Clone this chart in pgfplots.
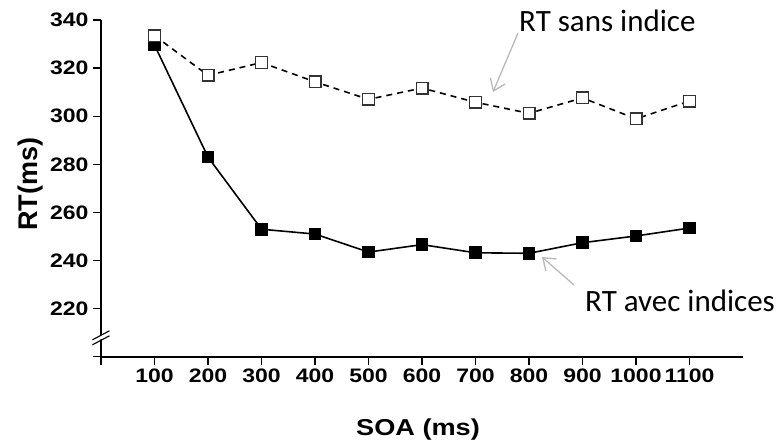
\documentclass[border=0pt]{standalone}
\usepackage{pgfplots}
\pgfplotsset{compat=1.18}
\usepackage{fontspec}
\setmainfont{Liberation Sans}
\newfontfamily\widefont[FakeStretch=1.18]{Liberation Sans}
\newfontfamily\calibri{Carlito}
\usetikzlibrary{arrows.meta,calc}
\definecolor{arrowgray}{RGB}{185,185,185}
\begin{document}
\begin{tikzpicture}[x=1pt,y=1pt]
\useasboundingbox (0,0) rectangle (782,440);
\begin{axis}[
  at={(101pt,83.3pt)}, anchor=south west,
  scale only axis, width=642pt, height=336.7pt,
  xmin=0, xmax=1200, ymin=200, ymax=340,
  axis lines=left,
  axis line style={-, line width=1.6pt},
  xtick={0,100,...,1100},
  xticklabels={,100,200,300,400,500,600,700,800,900,1000,1100},
  ytick={200,220,...,340},
  yticklabels={,220,240,260,280,300,320,340},
  tick align=outside,
  major tick length=8pt,
  tick style={line width=1.4pt, black},
  /pgf/number format/assume math mode=true,
  ticklabel style={font=\widefont\bfseries\fontsize{19.5}{19.5}\selectfont},
  yticklabel style={xshift=-1pt},
  xticklabel style={yshift=-1pt},
  clip=false,
]
\addplot[black, line width=1.6pt, mark=square*, mark size=5.8pt,
  mark options={solid, fill=black, line width=1.2pt}]
  coordinates {(100,329.6) (200,283) (300,253) (400,251) (500,243.5) (600,246.6)
               (700,243.2) (800,243) (900,247.4) (1000,250.2) (1100,253.5)};
\addplot[black, line width=1.6pt, dash pattern=on 6pt off 5pt, mark=square*, mark size=5.8pt,
  mark options={solid, fill=white, draw=black!80, line width=1.4pt}]
  coordinates {(100,333.5) (200,317) (300,322.3) (400,314.3) (500,307) (600,311.7)
               (700,305.8) (800,301.2) (900,307.6) (1000,298.9) (1100,306.3)};
% axis break
\fill[white] ($(axis cs:0,208.7)+(-6pt,-6pt)$) -- ($(axis cs:0,208.7)+(8pt,0pt)$) -- ($(axis cs:0,208.7)+(8pt,4pt)$) -- ($(axis cs:0,208.7)+(-6pt,-2pt)$) -- cycle;
\draw[black, line width=1.1pt] ($(axis cs:0,208.7)+(-8.5pt,-9pt)$) -- ($(axis cs:0,208.7)+(8.5pt,0pt)$);
\draw[black, line width=1.1pt] ($(axis cs:0,208.7)+(-8.5pt,-4pt)$) -- ($(axis cs:0,208.7)+(8.5pt,5pt)$);
\end{axis}
\node[rotate=90, font=\bfseries\fontsize{27}{27}\selectfont] at (31,256) {RT(ms)};
\node[anchor=base, font=\widefont\bfseries\fontsize{23}{23}\selectfont] at (418,5) {SOA (ms)};
\node[anchor=base west, inner sep=0pt, font=\calibri\fontsize{31}{31}\selectfont] at (519,408) {RT sans indice};
\node[anchor=base west, inner sep=0pt, font=\calibri\fontsize{31}{31}\selectfont] at (585,129) {RT avec indices};
\draw[arrowgray, line width=1.3pt, -{Straight Barb[length=11pt, width=16pt]}] (518,407) -- (493,348);
\draw[arrowgray, line width=1.3pt, -{Straight Barb[length=11pt, width=16pt]}] (574,155) -- (542,183);
\end{tikzpicture}
\end{document}
